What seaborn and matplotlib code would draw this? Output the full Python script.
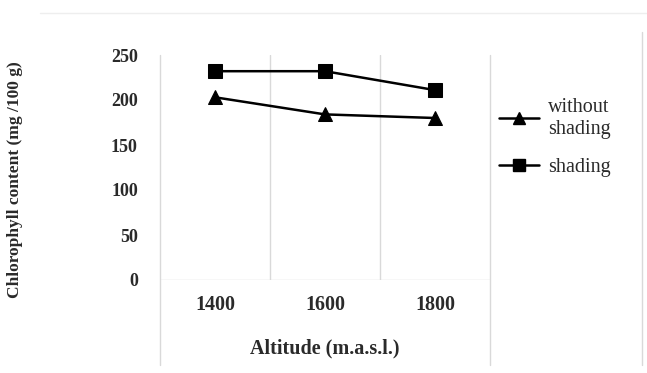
import matplotlib
matplotlib.use('Agg')
import matplotlib.pyplot as plt
from matplotlib.lines import Line2D
import seaborn as sns
import pandas as pd

# values
altitudes = ['1400', '1600', '1800']
without_shading = [203, 184, 180]
shading = [232, 232, 211]
series_names = ['without\nshading', 'shading']

sns.set_style('white')
plt.rcParams['font.family'] = ['Liberation Serif', 'DejaVu Serif']

rows = []
for a, v in zip(altitudes, without_shading):
    rows.append([a, v, series_names[0]])
for a, v in zip(altitudes, shading):
    rows.append([a, v, series_names[1]])
df = pd.DataFrame(rows, columns=['Altitude', 'Chlorophyll', 'Type'])

fig = plt.figure(figsize=(6.47, 3.73), dpi=100)
ax = fig.add_axes([160/647, (373-280)/373, 330/647, 225/373])

sns.lineplot(data=df, x='Altitude', y='Chlorophyll', style='Type',
             markers={series_names[0]: '^', series_names[1]: 's'},
             dashes=False, color='black', linewidth=1.8, markersize=10,
             markeredgecolor='black', ax=ax, legend=False)

ax.set_xlim(-0.5, 2.5)
ax.set_ylim(0, 250)
ax.set_yticks([0, 50, 100, 150, 200, 250])
for s in ax.spines.values():
    s.set_visible(False)
ax.tick_params(length=0)
ax.tick_params(axis='y', pad=16)
ax.tick_params(axis='x', pad=11)
for lab in ax.get_yticklabels():
    lab.set_fontweight('bold'); lab.set_fontsize(13); lab.set_color('#2a2a2a')
for lab in ax.get_xticklabels():
    lab.set_fontweight('bold'); lab.set_fontsize(14.5); lab.set_color('#2a2a2a')

# Excel style category separators
grid_c = '#d9d9d9'
ax.axhline(0, color=grid_c, lw=1, zorder=0)
for xb in [0.5, 1.5]:
    ax.axvline(xb, color=grid_c, lw=1, zorder=0)
for xb in [-0.5, 2.5]:
    ax.add_line(Line2D([xb, xb], [-94, 250], color=grid_c, lw=1,
                       clip_on=False, zorder=0))
fig.add_artist(Line2D([642/647, 642/647], [(373-365)/373, (373-32)/373],
                      color=grid_c, lw=1))
fig.add_artist(Line2D([40/647, 1], [(373-13)/373, (373-13)/373],
                      color='#eeeeee', lw=1))

ax.set_xlabel('Altitude (m.a.s.l.)', fontsize=14.5, fontweight='bold',
              color='#2a2a2a', labelpad=17)
ax.set_ylabel('')
fig.text(15/647, (373-180)/373, 'Chlorophyll content (mg /100 g)',
         rotation=90, ha='center', va='center', fontsize=12.5,
         fontweight='bold', color='#2a2a2a')

# legend on the right
handles = [Line2D([], [], color='black', marker='^', markersize=8, lw=1.8),
           Line2D([], [], color='black', marker='s', markersize=8, lw=1.8)]
fig.legend(handles, series_names, loc='upper left',
           bbox_to_anchor=(481/647, (373-80)/373), frameon=False,
           handlelength=2.0, labelspacing=0.95,
           handletextpad=0.45, prop={'size': 14.5}, labelcolor='#2a2a2a')

fig.savefig('out.png', dpi=100)
plt.close('all')
